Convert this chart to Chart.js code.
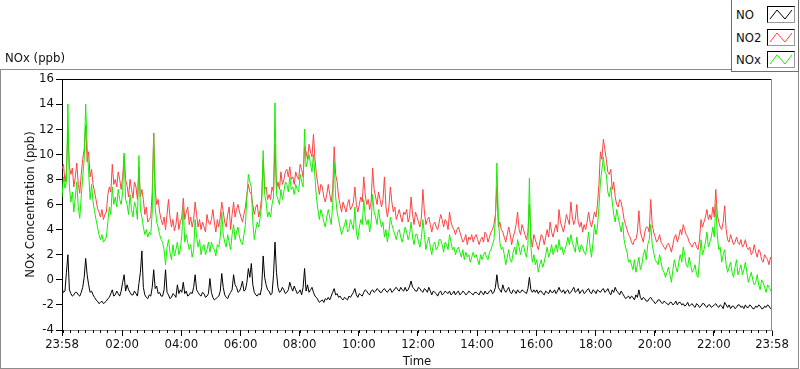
<!DOCTYPE html>
<html>
<head>
<meta charset="utf-8">
<script src="https://cdn.jsdelivr.net/npm/chart.js@4/dist/chart.umd.min.js"></script>
<style>
  body { margin: 0; background: #fff; }
  #wrap { position: relative; width: 800px; height: 369px; overflow: hidden;
          font-family: 'Liberation Sans Narrow', 'DejaVu Sans Condensed', 'Liberation Sans', sans-serif; font-size: 13px; color: #111; }
  #frame { position: absolute; left: 0; top: 69px; width: 799px; height: 300px; box-sizing: border-box; border: 1px solid #8c8c8c; }
  #chart { position: absolute; left: 0; top: 0; }
  #plotName { position: absolute; left: 5px; top: 50px; line-height: 16px; }
  #legend { position: absolute; left: 731px; top: 0; width: 68px; height: 72px; box-sizing: border-box;
            border: 1px solid #6e6e6e; border-top: none; background: #fff; z-index: 2; }
  .row { position: absolute; left: 4px; height: 17px; width: 62px; }
  .row span { position: absolute; left: 0; top: 0; line-height: 17px; }
  .row svg { position: absolute; left: 31px; top: 0; width: 28px; height: 17px; box-sizing: border-box;
             border: 1px solid #000; border-right-color: #999; border-bottom-color: #999; background: #fff; }
</style>
</head>
<body>
<div id="wrap">
  <div id="frame"></div>
  <canvas id="chart" width="800" height="369"></canvas>
  <div id="plotName">NOx (ppb)</div>
  <div id="legend"></div>
</div>
<script>
// samples every 3 minutes from 23:58, one row per hour
var sampleStepMinutes = 3;

var noValues = [
  -0.7, -1.0, -0.9, 0.6, 2.0, -0.8, -1.1, -1.3, -1.2, -1.0, -1.0, -1.2, -1.3, -1.0, -0.6, 0.2, 1.7, 0.4, -0.4, -1.0,
  -0.9, -1.2, -1.4, -1.6, -1.7, -1.9, -1.8, -1.7, -1.9, -1.8, -1.7, -1.5, -1.4, -1.1, -0.8, -1.3, -1.2, -0.9, -1.1, -1.3,
  -0.9, -0.2, 0.4, -0.9, -0.4, -0.8, -1.0, -1.2, -1.2, -0.9, -1.1, -1.3, -0.3, 0.6, 2.3, -0.6, -1.2, -1.4, -1.5, -1.2,
  -1.3, -0.6, 0.8, -0.7, -0.5, -1.1, -1.0, -1.3, -1.3, -0.8, 0.8, -1.0, -1.2, -1.5, -1.4, -1.1, -1.2, -1.4, -0.4, -1.1,
  -0.8, -1.0, -0.2, -1.1, -0.9, -1.3, -1.2, -1.0, -1.1, -0.6, 0.4, -0.8, -1.0, -1.2, -1.3, -1.0, -1.1, -1.4, -1.3, -1.1,
  0.1, -1.0, -1.4, -1.6, -1.5, -1.4, -1.3, -0.9, 0.5, -0.6, -1.2, -1.4, -1.5, -1.2, -1.0, -0.8, 0.4, -0.4, -0.6, -1.0,
  -0.9, -0.6, -0.1, -0.9, -0.8, -0.2, 0.9, 0.2, 1.3, -0.4, -1.0, -1.2, -1.3, -1.1, -1.2, -0.6, 1.9, 0.2, -0.4, -0.8,
  -0.9, -1.2, -1.1, 0.4, 3.0, 0.6, -0.6, -1.0, -0.9, -0.6, -0.8, -1.1, -1.0, -0.8, -0.2, -0.6, -0.9, -0.5, -0.8, -1.1,
  -1.0, -0.8, -1.2, -0.6, 0.9, -0.9, -0.4, -1.0, -0.8, -0.6, -1.0, -1.3, -1.4, -1.6, -1.8, -1.7, -1.6, -1.8, -1.5, -1.6,
  -1.4, -1.6, -1.3, -1.0, -0.7, -1.2, -1.1, -1.4, -1.3, -1.5, -1.6, -1.4, -1.5, -1.6, -1.3, -1.4, -1.2, -1.0, -0.7, -1.2,
  -1.4, -1.1, -1.2, -1.3, -1.0, -0.8, -0.9, -1.1, -1.2, -0.9, -0.8, -1.0, -0.9, -0.7, -0.8, -1.0, -1.0, -0.8, -0.7, -0.9,
  -1.0, -0.8, -0.7, -1.0, -0.9, -0.7, -0.6, -0.8, -0.9, -0.6, -0.8, -0.9, -0.6, -0.9, -0.8, -0.5, -0.1, -0.6, -0.7, -0.9,
  -0.9, -0.6, -0.7, -0.9, -1.0, -0.7, -0.8, -1.0, -0.6, -0.9, -1.2, -0.9, -1.0, -1.1, -1.3, -1.0, -0.9, -1.2, -1.1, -0.9,
  -1.0, -1.1, -0.9, -1.2, -1.1, -0.9, -1.2, -1.0, -0.9, -1.2, -1.1, -0.9, -1.0, -1.2, -1.1, -0.9, -1.0, -1.1, -1.2, -1.0,
  -1.0, -1.1, -1.2, -0.9, -1.0, -1.2, -0.9, -1.1, -1.1, -0.9, -0.8, -1.1, -1.0, -0.6, 0.4, -0.6, -0.8, -1.0, -0.4, -0.8,
  -1.0, -0.8, -0.6, -1.0, -1.1, -0.8, -0.9, -1.1, -0.8, -1.0, -1.0, -0.8, -0.9, -1.0, -1.1, -0.7, 0.2, -0.8, -1.0, -0.8,
  -1.0, -0.8, -1.1, -0.9, -0.9, -1.1, -1.2, -0.9, -1.0, -1.1, -0.8, -1.0, -1.0, -0.8, -1.1, -0.9, -0.6, -0.9, -1.0, -0.8,
  -1.1, -0.9, -0.8, -1.1, -1.0, -0.8, -0.6, -1.0, -0.9, -0.7, -1.1, -0.9, -0.8, -1.1, -1.0, -0.8, -0.7, -1.0, -1.1, -0.8,
  -0.9, -1.1, -0.8, -0.9, -1.0, -0.8, -0.7, -1.0, -0.9, -0.7, -1.0, -1.2, -0.8, -1.0, -0.6, -0.9, -1.0, -1.2, -0.9, -1.1,
  -1.3, -1.5, -1.4, -1.3, -1.5, -1.3, -1.4, -1.6, -1.2, -1.4, -0.8, -1.4, -1.6, -1.4, -1.5, -1.7, -1.7, -1.5, -1.4, -1.6,
  -1.7, -1.9, -1.8, -1.6, -1.6, -1.8, -1.9, -1.7, -1.8, -1.9, -2.0, -1.8, -1.8, -2.0, -1.9, -1.7, -2.0, -1.8, -1.8, -2.0,
  -1.9, -2.1, -2.0, -1.8, -2.1, -2.0, -1.9, -2.1, -2.2, -1.9, -2.0, -2.2, -2.1, -1.9, -1.9, -2.1, -2.2, -2.0, -2.0, -2.2,
  -2.1, -2.0, -1.9, -2.1, -2.2, -2.0, -2.1, -2.3, -1.8, -2.0, -2.2, -2.0, -2.3, -2.1, -2.1, -2.3, -2.2, -2.0, -2.0, -2.2,
  -2.1, -2.3, -2.0, -2.2, -2.2, -2.0, -2.1, -2.3, -2.3, -2.1, -2.2, -2.0, -2.1, -2.3, -2.3, -2.1, -2.2, -2.0, -2.1, -2.3, -2.2
];

var no2Values = [
  8.8, 9.2, 7.8, 8.6, 11.9, 9.0, 8.4, 8.9, 7.4, 8.2, 9.3, 7.6, 6.9, 8.4, 9.6, 10.4, 12.3, 9.4, 10.2, 8.2,
  8.8, 7.6, 7.0, 6.4, 5.7, 5.4, 5.0, 5.6, 4.8, 5.2, 5.4, 6.8, 7.4, 7.0, 9.2, 7.6, 8.0, 7.4, 8.6, 8.0,
  7.2, 8.2, 9.9, 8.0, 7.5, 6.6, 8.0, 7.2, 6.5, 7.8, 7.4, 6.4, 9.0, 6.6, 7.2, 6.4, 5.2, 5.8, 4.6, 4.8,
  5.0, 7.0, 11.7, 7.2, 6.0, 6.4, 5.4, 4.8, 4.4, 5.0, 4.0, 5.2, 6.4, 5.0, 4.2, 4.8, 3.9, 4.4, 5.4, 4.0,
  4.6, 5.0, 6.5, 4.8, 5.4, 5.8, 4.4, 5.0, 4.2, 4.8, 6.2, 5.2, 4.2, 4.8, 4.0, 4.6, 4.2, 3.8, 5.2, 4.6,
  4.4, 4.8, 5.6, 4.6, 3.8, 4.8, 4.2, 5.0, 6.2, 5.4, 4.6, 4.2, 5.2, 5.8, 4.0, 5.2, 6.2, 5.0, 5.6, 6.0,
  5.4, 5.0, 4.6, 5.2, 5.8, 6.8, 7.6, 7.0, 6.8, 6.0, 5.2, 5.8, 6.0, 5.0, 5.6, 6.6, 9.6, 7.2, 7.4, 6.4,
  6.8, 6.4, 7.4, 7.0, 10.8, 7.2, 7.8, 7.2, 8.6, 7.6, 8.0, 8.6, 8.8, 8.2, 9.0, 8.0, 8.2, 7.6, 8.6, 8.2,
  8.0, 9.2, 8.8, 8.2, 10.6, 10.2, 9.6, 10.8, 10.2, 9.8, 11.6, 9.6, 8.4, 7.6, 6.8, 7.6, 7.4, 6.6, 6.2, 6.8,
  7.6, 6.8, 6.2, 7.2, 10.6, 8.4, 7.8, 6.6, 6.0, 5.4, 6.2, 5.8, 5.4, 6.0, 6.4, 5.6, 5.8, 6.2, 7.4, 6.0,
  5.4, 6.0, 6.6, 6.2, 8.2, 6.8, 6.0, 6.4, 5.6, 6.2, 8.9, 7.2, 6.6, 6.0, 7.0, 6.4, 5.8, 6.4, 8.2, 5.8,
  5.0, 5.8, 7.4, 6.2, 5.4, 5.8, 4.8, 5.2, 5.6, 5.0, 4.6, 5.4, 5.2, 5.6, 4.6, 5.0, 6.6, 5.2, 4.4, 5.4,
  5.0, 4.6, 4.2, 5.0, 7.2, 5.4, 4.4, 4.8, 5.0, 4.4, 3.8, 4.4, 4.6, 4.2, 4.0, 4.6, 5.2, 4.8, 4.2, 4.8,
  4.6, 4.0, 5.4, 4.6, 4.2, 4.0, 3.6, 4.0, 4.2, 3.8, 3.4, 3.0, 3.2, 3.6, 2.8, 3.4, 3.2, 3.6, 3.0, 3.4,
  3.6, 3.2, 2.8, 3.2, 3.4, 3.0, 3.8, 3.6, 3.0, 3.4, 3.8, 4.0, 4.4, 5.2, 7.4, 4.2, 4.6, 4.0, 3.8, 3.4,
  3.0, 3.6, 4.2, 3.6, 2.8, 3.4, 3.8, 4.4, 5.4, 4.0, 3.6, 4.4, 4.0, 3.6, 3.2, 3.8, 6.0, 3.4, 2.6, 3.6,
  3.2, 2.8, 2.4, 3.0, 3.6, 3.4, 2.8, 3.4, 4.0, 3.4, 4.6, 3.8, 3.4, 4.0, 4.4, 3.8, 5.6, 4.6, 4.2, 3.8,
  4.4, 5.2, 4.8, 4.4, 6.2, 5.0, 4.4, 4.8, 6.0, 4.6, 4.2, 4.6, 3.8, 4.4, 4.0, 4.6, 5.4, 4.6, 4.2, 4.8,
  5.4, 5.0, 6.0, 7.6, 10.2, 9.6, 11.2, 10.4, 9.6, 8.6, 8.4, 8.8, 7.2, 7.8, 6.6, 6.0, 5.8, 6.4, 6.2, 5.6,
  4.8, 4.4, 4.0, 3.6, 3.4, 3.0, 2.8, 3.2, 3.2, 3.8, 5.5, 3.8, 3.4, 3.0, 3.8, 4.2, 4.2, 3.8, 6.4, 4.4,
  3.8, 3.4, 3.0, 3.2, 3.6, 3.0, 2.8, 2.6, 2.4, 2.8, 2.9, 2.6, 2.2, 2.8, 3.4, 3.6, 3.0, 3.4, 4.0, 3.6,
  4.4, 4.0, 3.6, 3.4, 3.0, 2.8, 2.6, 2.9, 3.0, 2.6, 2.4, 3.2, 4.8, 4.2, 4.6, 5.0, 5.6, 4.8, 5.2, 4.8,
  5.8, 5.0, 7.2, 5.2, 4.6, 4.2, 4.0, 4.6, 5.9, 4.0, 3.2, 3.0, 3.6, 3.2, 2.8, 3.0, 3.4, 3.0, 2.8, 3.2,
  2.6, 2.8, 3.2, 2.6, 2.4, 2.6, 2.0, 2.2, 2.8, 2.2, 1.8, 2.4, 2.2, 1.6, 1.4, 2.0, 1.8, 1.6, 1.2, 1.8, 1.6
];

var noxValues = [
  6.6, 8.2, 7.3, 7.8, 14.0, 7.4, 6.2, 7.0, 5.4, 6.6, 7.8, 5.8, 4.9, 6.6, 8.2, 9.6, 14.0, 10.6, 8.6, 6.4,
  7.6, 6.2, 5.5, 4.8, 4.2, 3.6, 3.2, 3.6, 3.0, 3.2, 3.4, 4.6, 5.8, 5.2, 7.4, 6.0, 6.6, 5.8, 7.2, 6.4,
  6.0, 7.0, 10.1, 6.4, 6.0, 5.2, 6.8, 5.6, 5.0, 6.2, 5.8, 4.8, 9.9, 5.6, 5.0, 4.2, 3.6, 4.0, 3.4, 3.8,
  3.6, 5.4, 11.6, 5.8, 4.6, 4.2, 3.6, 3.2, 3.0, 2.4, 1.2, 2.6, 3.2, 2.2, 1.6, 2.8, 1.9, 2.4, 3.0, 2.0,
  2.4, 3.6, 5.8, 3.0, 3.6, 3.0, 2.4, 2.8, 1.8, 2.4, 4.8, 3.4, 2.6, 3.2, 2.0, 2.6, 2.8, 2.0, 2.4, 3.0,
  2.2, 3.0, 2.6, 2.4, 1.9, 2.8, 2.6, 3.4, 5.4, 3.6, 3.0, 2.6, 3.6, 3.0, 2.4, 3.6, 4.4, 3.2, 3.8, 4.2,
  3.4, 3.0, 2.8, 3.6, 4.4, 6.6, 8.4, 7.8, 7.4, 4.6, 3.2, 4.0, 4.6, 4.2, 5.0, 6.0, 10.3, 6.8, 6.2, 5.0,
  5.4, 5.0, 6.0, 6.6, 14.1, 6.8, 6.4, 6.0, 7.2, 6.4, 7.0, 7.8, 7.6, 7.0, 8.2, 7.2, 7.4, 6.8, 7.6, 7.2,
  7.0, 8.4, 7.8, 7.4, 12.0, 9.0, 9.4, 10.0, 9.2, 8.6, 10.0, 8.2, 6.6, 5.6, 4.8, 5.6, 5.2, 4.6, 4.2, 5.0,
  5.6, 5.0, 4.4, 6.0, 9.4, 6.6, 5.4, 4.8, 4.2, 3.6, 4.0, 4.4, 4.8, 3.8, 4.0, 4.8, 4.4, 4.0, 5.8, 3.8,
  3.2, 4.2, 4.8, 4.4, 6.4, 5.0, 4.4, 4.8, 3.8, 4.6, 6.8, 5.4, 5.0, 4.4, 5.6, 4.8, 4.2, 4.6, 3.4, 4.0,
  3.0, 3.8, 5.0, 4.4, 4.0, 3.6, 3.2, 3.8, 4.0, 3.4, 3.0, 3.6, 4.2, 3.8, 3.2, 3.6, 4.6, 3.4, 2.8, 3.6,
  3.6, 3.0, 2.6, 3.4, 4.8, 3.6, 2.4, 3.0, 3.4, 2.6, 2.0, 2.8, 3.0, 2.4, 2.6, 3.2, 3.2, 2.8, 2.2, 3.0,
  2.8, 2.4, 3.6, 3.0, 2.4, 2.6, 2.0, 2.4, 2.6, 2.2, 1.8, 2.4, 1.6, 2.2, 1.8, 2.0, 1.4, 1.8, 2.2, 1.8,
  2.0, 1.6, 1.2, 2.0, 1.6, 2.0, 2.2, 1.8, 1.6, 2.2, 2.4, 2.8, 3.2, 4.8, 9.3, 5.0, 3.0, 2.4, 2.6, 2.0,
  1.2, 1.8, 2.4, 1.6, 1.4, 2.2, 2.6, 2.0, 3.2, 2.6, 2.0, 2.6, 2.8, 2.2, 1.8, 2.8, 8.1, 2.6, 1.4, 2.0,
  1.2, 1.6, 0.6, 1.2, 1.6, 1.0, 1.4, 2.0, 2.6, 1.8, 2.2, 2.8, 2.0, 2.4, 2.8, 2.2, 3.2, 2.4, 2.6, 2.0,
  2.4, 2.8, 3.4, 2.8, 3.6, 3.0, 2.6, 2.2, 3.4, 2.6, 2.2, 2.8, 2.6, 2.2, 2.0, 2.8, 3.8, 2.6, 1.8, 3.0,
  4.4, 3.6, 4.2, 5.8, 7.8, 8.8, 9.8, 8.6, 8.4, 7.0, 6.6, 7.4, 6.2, 5.2, 4.6, 5.6, 5.0, 4.4, 3.8, 4.6,
  3.2, 2.6, 2.2, 1.4, 1.6, 1.2, 0.8, 1.6, 0.6, 1.2, 1.8, 0.8, 1.2, 2.0, 2.4, 1.6, 2.8, 3.2, 4.4, 2.8,
  2.2, 1.6, 1.4, 1.2, 2.0, 1.4, 0.8, 0.6, 0.2, 0.6, 1.0, 0.4, -0.2, 0.8, 1.6, 1.0, 0.6, 1.4, 2.0, 1.4,
  2.6, 2.0, 1.2, 1.0, 1.8, 1.2, 0.6, 0.8, 1.2, 0.4, 0.2, 1.6, 3.2, 2.0, 2.4, 3.0, 3.8, 2.6, 3.0, 3.4,
  4.2, 3.4, 6.0, 3.6, 2.4, 2.6, 1.4, 2.0, 2.4, 1.2, 0.6, 1.0, 1.4, 0.6, 0.2, 1.0, 1.6, 0.4, 0.8, 1.2,
  0.4, 0.8, 1.4, 0.6, -0.2, 0.2, 0.6, 0.0, -0.4, -0.2, 0.4, -0.4, -0.8, 0.0, -0.2, -0.6, -1.0, -0.4, -0.6, -0.8, -1.1
];

// x axis: minutes since 23:58
var tickMinutes = [0, 122, 242, 362, 482, 602, 722, 842, 962, 1082, 1202, 1322, 1440];
var tickLabels = ['23:58', '02:00', '04:00', '06:00', '08:00', '10:00', '12:00', '14:00', '16:00', '18:00', '20:00', '22:00', '23:58'];
var seriesNames = ['NO', 'NO2', 'NOx'];
var seriesColors = ['#000000', '#ff4242', '#16ee00'];

var fontFamily = "'Liberation Sans Narrow', 'DejaVu Sans Condensed', 'Liberation Sans', sans-serif";
Chart.defaults.font.family = fontFamily;
Chart.defaults.font.size = 13;
Chart.defaults.color = '#111';

function toPoints(values) {
    return values.map(function (v, i) { return { x: i * sampleStepMinutes, y: v }; });
}

// quarter-hour minor ticks aligned to the clock (00:00 is 2 min after start)
var minorTicks = [];
for (var m = 2; m < 1440; m += 15) { minorTicks.push(m); }

var frameAndMinor = {
    id: 'frameAndMinor',
    afterDraw: function (chart) {
        var ctx = chart.ctx, a = chart.chartArea, x = chart.scales.x;
        ctx.save();
        ctx.lineWidth = 1;
        ctx.strokeStyle = '#000';
        ctx.beginPath();
        ctx.moveTo(a.left, a.top + 0.5);
        ctx.lineTo(a.right, a.top + 0.5);
        minorTicks.forEach(function (t) {
            var px = Math.round(x.getPixelForValue(t)) + 0.5;
            ctx.moveTo(px, a.bottom);
            ctx.lineTo(px, a.bottom + 3);
        });
        ctx.stroke();
        ctx.strokeStyle = '#8c8c8c';
        ctx.beginPath();
        ctx.moveTo(a.right - 0.5, a.top);
        ctx.lineTo(a.right - 0.5, a.bottom);
        ctx.stroke();
        ctx.restore();
    }
};

var datasets = [noValues, no2Values, noxValues].map(function (vals, i) {
    return {
        label: seriesNames[i],
        data: toPoints(vals),
        borderColor: seriesColors[i],
        borderWidth: 1,
        pointRadius: 0,
        tension: 0,
        order: [0, 2, 1][i]
    };
});

new Chart(document.getElementById('chart'), {
    type: 'line',
    data: { datasets: datasets },
    plugins: [frameAndMinor],
    options: {
        responsive: false,
        animation: false,
        devicePixelRatio: 1,
        layout: { padding: { left: 0, top: 79, right: 28, bottom: 0 } },
        plugins: { legend: { display: false }, tooltip: { enabled: false } },
        scales: {
            x: {
                type: 'linear',
                min: 0,
                max: 1440,
                afterBuildTicks: function (scale) {
                    scale.ticks = tickMinutes.map(function (v) { return { value: v }; });
                },
                afterFit: function (scale) { scale.height = 39; },
                ticks: {
                    autoSkip: false,
                    maxRotation: 0,
                    padding: 1,
                    color: '#111',
                    callback: function (v, i) { return tickLabels[i]; }
                },
                grid: { drawOnChartArea: false, tickLength: 6, tickColor: '#000' },
                border: { color: '#8c8c8c' },
                title: { display: true, text: 'Time', color: '#111', padding: { top: 0, bottom: 0 } }
            },
            y: {
                min: -4,
                max: 16,
                afterFit: function (scale) { scale.width = 62; },
                ticks: { stepSize: 2, padding: 2, color: '#111' },
                grid: { drawOnChartArea: false, tickLength: 6, tickColor: '#000' },
                border: { color: '#000' },
                title: { display: true, text: 'NOx Concentration (ppb)', color: '#111', padding: { top: 23, bottom: 0 } }
            }
        }
    }
});

// legend panel in the corner, like the original front panel
var legend = document.getElementById('legend');
seriesNames.forEach(function (name, i) {
    var row = document.createElement('div');
    row.className = 'row';
    row.style.top = (6 + i * 22.5) + 'px';
    row.innerHTML = '<span>' + name + '</span>' +
        '<svg viewBox="0 0 26 15"><polyline points="2,12 9,3 17,12 24,3" fill="none" stroke="' +
        seriesColors[i] + '" stroke-width="1"/></svg>';
    legend.appendChild(row);
});
</script>
</body>
</html>
